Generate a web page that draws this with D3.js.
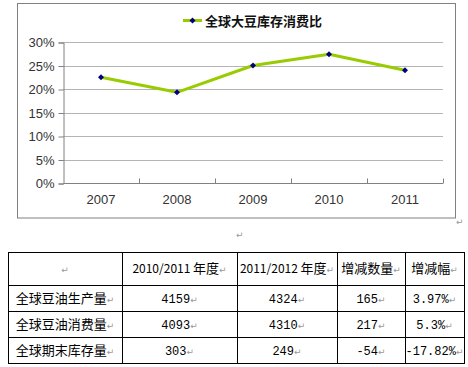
<!DOCTYPE html>
<html><head><meta charset="utf-8">
<script src="https://cdn.jsdelivr.net/npm/d3@7"></script>
<style>body{margin:0;background:#fff;}svg{display:block;}</style>
</head><body>
<svg id="c" width="468" height="367"></svg>
<script>
const years = ["2007","2008","2009","2010","2011"];
const ratio = [22.5, 19.3, 25.0, 27.4, 24.0];
const yTicks = [0,5,10,15,20,25,30];
const seriesName = "全球大豆库存消费比";

const tableHeader = ["", "2010/2011 年度", "2011/2012 年度", "增减数量", "增减幅"];
const rowNames = ["全球豆油生产量", "全球豆油消费量", "全球期末库存量"];
const col2010 = ["4159", "4093", "303"];
const col2011 = ["4324", "4310", "249"];
const colDiff = ["165", "217", "-54"];
const colPct = ["3.97%", "5.3%", "-17.82%"];

const svg = d3.select("#c");
const font = "'Liberation Sans', Arial, sans-serif";
const cjk = "'Noto Sans CJK SC', sans-serif";
const mono = "'Liberation Mono', monospace";

// outer chart frame
svg.append("rect").attr("x",17.5).attr("y",3.5).attr("width",438).attr("height",214.5)
  .attr("fill","#fff").attr("stroke","#808080").attr("stroke-width",1);

const x = d3.scaleBand().domain(years).range([63,443]);
const y = d3.scaleLinear().domain([0,30]).range([183,42]);

// gridlines
svg.append("g").selectAll("line").data(yTicks.filter(d=>d>0)).join("line")
  .attr("x1",63).attr("x2",443).attr("y1",d=>Math.round(y(d))+0.5).attr("y2",d=>Math.round(y(d))+0.5)
  .attr("stroke","#b4b4b4").attr("stroke-width",1);

// y axis
const yAxis = svg.append("g").attr("transform","translate(63.5,0.5)")
  .call(d3.axisLeft(y).tickValues(yTicks).tickFormat(d=>d+"%").tickSize(5).tickPadding(4));
yAxis.attr("font-family",font).attr("font-size",13);
yAxis.select(".domain").attr("stroke","#808080");
yAxis.selectAll(".tick line").attr("stroke","#808080");
yAxis.selectAll(".tick text").attr("fill","#333");

// x axis
const xAxis = svg.append("g").attr("transform","translate(0,183.5)")
  .call(d3.axisBottom(x).tickSize(0).tickPadding(11));
xAxis.attr("font-family",font).attr("font-size",13);
xAxis.select(".domain").attr("stroke","#808080").attr("d","M63.5,0H443");
xAxis.selectAll(".tick text").attr("fill","#333");
// category boundary ticks (inward)
xAxis.append("g").selectAll("line").data(years.slice(1).concat(["end"])).join("line")
  .attr("x1",(d,i)=>Math.round(x.range()[0]+x.step()*(i+1))+0.5)
  .attr("x2",(d,i)=>Math.round(x.range()[0]+x.step()*(i+1))+0.5)
  .attr("y1",0).attr("y2",-5).attr("stroke","#808080");

// line
const line = d3.line().x((d,i)=>x(years[i])+x.bandwidth()/2).y(d=>y(d));
svg.append("path").datum(ratio).attr("d",line).attr("fill","none")
  .attr("stroke","#99cc00").attr("stroke-width",3).attr("stroke-linejoin","round");
const marker = d3.symbol().type(d3.symbolSquare).size(18);
svg.append("g").selectAll("path").data(ratio).join("path")
  .attr("d",marker).attr("transform",(d,i)=>`translate(${x(years[i])+x.bandwidth()/2},${y(d)}) rotate(45)`)
  .attr("fill","#000080");

// legend
svg.append("line").attr("x1",183).attr("x2",202).attr("y1",20.5).attr("y2",20.5)
  .attr("stroke","#99cc00").attr("stroke-width",3);
svg.append("path").attr("d",marker).attr("transform","translate(192.5,20.5) rotate(45)").attr("fill","#000080");
svg.append("text").attr("x",205).attr("y",25.5).attr("font-family",cjk).attr("font-weight","bold")
  .attr("font-size",13).attr("fill","#111").text(seriesName);

// paragraph marks
function pmark(px,py){
  svg.append("text").attr("x",px).attr("y",py).attr("font-family","'DejaVu Sans', sans-serif")
    .attr("font-size",9).attr("fill","#999").text("↵");
}
pmark(456,225);
pmark(236,238);

// table
const colX = [8,122,237,337,405,464];
const rowY = [252,285,311,337,363];
const tg = svg.append("g");
colX.forEach(cx=>tg.append("line").attr("x1",cx+0.5).attr("x2",cx+0.5).attr("y1",rowY[0]).attr("y2",rowY[rowY.length-1]+1).attr("stroke","#000"));
rowY.forEach(ry=>tg.append("line").attr("x1",colX[0]).attr("x2",colX[colX.length-1]+1).attr("y1",ry+0.5).attr("y2",ry+0.5).attr("stroke","#000"));

const rows = [tableHeader].concat(rowNames.map((n,i)=>[n,col2010[i],col2011[i],colDiff[i],colPct[i]]));
rows.forEach((r,ri)=>{
  const cy = (rowY[ri]+rowY[ri+1])/2;
  r.forEach((t,ci)=>{
    const cx = (colX[ci]+colX[ci+1])/2;
    const g = tg.append("text").attr("x",cx).attr("y",cy+4.5).attr("text-anchor","middle")
      .attr("font-family",cjk).attr("font-size",13).attr("fill","#000");
    const isNum = ri>0 && ci>0;
    if (isNum) {
      g.append("tspan").attr("font-family",mono).attr("font-size",12).text(t);
    } else if (ri===0 && (ci===1 || ci===2)) {
      const parts = t.split(" ");
      g.append("tspan").attr("font-size",12).text(parts[0]+" ");
      g.append("tspan").text(parts[1]);
    } else {
      g.append("tspan").text(t);
    }
    g.append("tspan").attr("font-size",9).attr("fill","#999").attr("font-family","'DejaVu Sans', sans-serif").text("↵");
  });
});
</script>
</body></html>
